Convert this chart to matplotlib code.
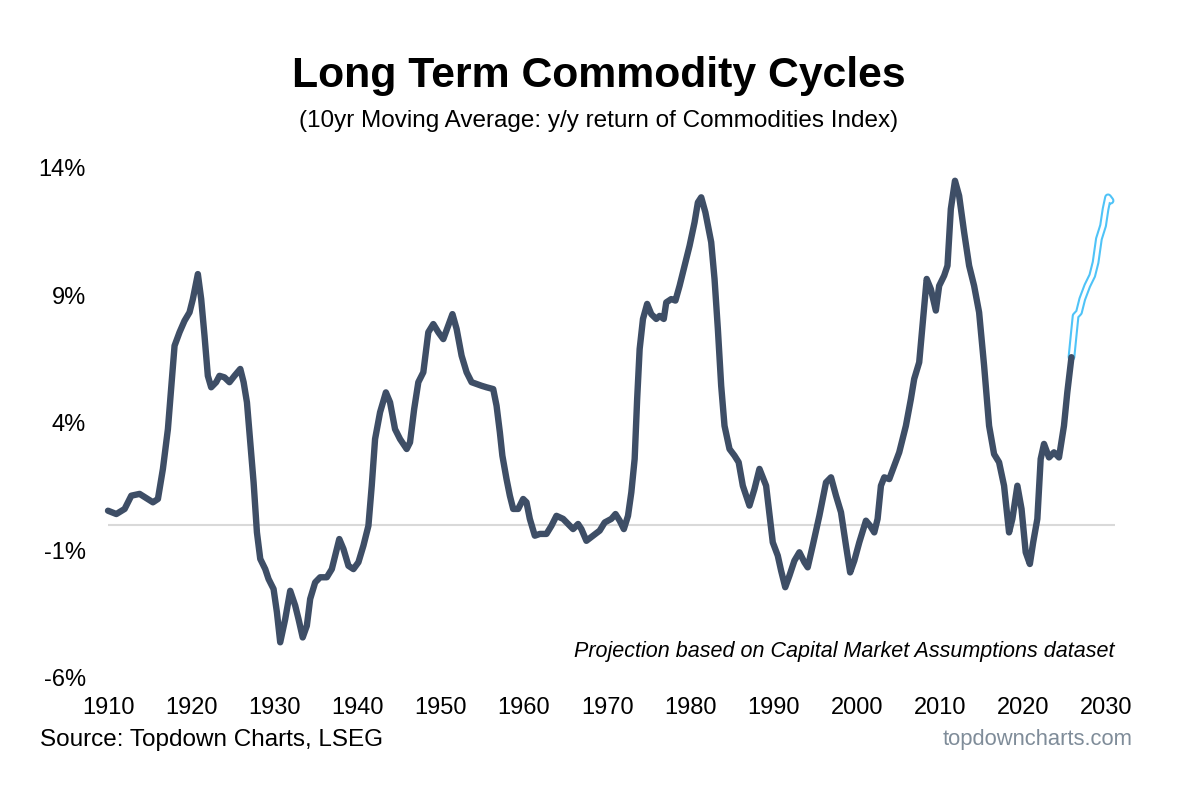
import matplotlib
matplotlib.use("Agg")
import matplotlib.pyplot as plt
import numpy as np

plt.rcParams['font.family'] = ['Liberation Sans', 'DejaVu Sans']

# Historical 10yr moving average of y/y commodity index returns (%)
hist_years = [1910.0, 1911.0, 1912.0, 1912.8, 1913.8, 1915.4, 1916.0, 1916.6, 1917.2, 1917.65,
              1918.0, 1918.6, 1919.2, 1919.8, 1920.2, 1920.8, 1921.2, 1921.6, 1922.0, 1922.4,
              1923.0, 1923.4, 1924.0, 1924.6, 1925.2, 1925.9, 1926.3, 1926.7, 1927.1, 1927.5,
              1927.9, 1928.3, 1928.9, 1929.3, 1929.9, 1930.3, 1930.7, 1931.3, 1931.9, 1932.5,
              1932.9, 1933.4, 1933.9, 1934.3, 1934.9, 1935.5, 1936.3, 1936.9, 1937.3, 1937.8,
              1938.3, 1938.9, 1939.5, 1940.1, 1940.7, 1941.3, 1941.7, 1942.1, 1942.7, 1943.4,
              1943.9, 1944.5, 1945.1, 1945.9, 1946.3, 1946.8, 1947.3, 1947.9, 1948.5, 1949.1,
              1949.7, 1950.3, 1950.9, 1951.4, 1951.9, 1952.5, 1953.1, 1953.7, 1954.3, 1954.9,
              1955.5, 1956.3, 1956.7, 1957.1, 1957.4, 1957.9, 1958.3, 1958.7, 1959.3, 1959.9,
              1960.3, 1960.7, 1961.3, 1961.9, 1962.7, 1963.3, 1963.9, 1964.7, 1965.5, 1965.9,
              1966.5, 1966.9, 1967.5, 1968.3, 1969.1, 1969.7, 1970.5, 1971.0, 1971.5, 1972.0,
              1972.5, 1972.9, 1973.3, 1973.6, 1973.9, 1974.3, 1974.8, 1975.3, 1975.9, 1976.3,
              1976.8, 1977.1, 1977.7, 1978.2, 1978.7, 1979.3, 1979.9, 1980.5, 1980.9, 1981.3,
              1981.8, 1982.5, 1982.9, 1983.3, 1983.7, 1984.1, 1984.7, 1985.3, 1985.8, 1986.3,
              1987.1, 1987.7, 1988.3, 1989.1, 1989.9, 1990.5, 1990.9, 1991.4, 1991.9, 1992.5,
              1993.1, 1993.7, 1994.1, 1994.7, 1995.5, 1996.3, 1996.9, 1997.5, 1998.1, 1998.7,
              1999.2, 1999.7, 2000.3, 2001.1, 2001.6, 2002.1, 2002.5, 2002.9, 2003.3, 2003.9,
              2004.5, 2005.1, 2005.9, 2006.5, 2006.9, 2007.5, 2007.9, 2008.4, 2008.9, 2009.5,
              2009.9, 2010.5, 2010.9, 2011.3, 2011.8, 2012.3, 2012.9, 2013.5, 2014.1, 2014.7,
              2015.3, 2015.9, 2016.5, 2017.1, 2017.7, 2018.3, 2018.7, 2019.3, 2019.8, 2020.3,
              2020.8, 2021.2, 2021.7, 2022.1, 2022.5, 2023.1, 2023.7, 2024.3, 2024.9, 2025.3,
              2025.8]
hist_values = [0.56, 0.43, 0.63, 1.15, 1.22, 0.89, 1.02, 2.2, 3.76, 5.6,
               7.03, 7.56, 8.01, 8.34, 8.86, 9.84, 8.86, 7.42, 5.85, 5.4,
               5.6, 5.85, 5.79, 5.6, 5.85, 6.12, 5.6, 4.81, 3.24, 1.67,
               -0.29, -1.33, -1.73, -2.12, -2.51, -3.42, -4.6, -3.69, -2.58, -3.16,
               -3.69, -4.41, -3.95, -2.9, -2.25, -2.05, -2.05, -1.73, -1.2, -0.55,
               -0.94, -1.6, -1.73, -1.46, -0.81, -0.03, 1.54, 3.37, 4.42, 5.2,
               4.81, 3.76, 3.37, 2.98, 3.24, 4.55, 5.6, 5.99, 7.56, 7.88,
               7.56, 7.29, 7.82, 8.27, 7.69, 6.64, 5.99, 5.6, 5.53, 5.46,
               5.4, 5.33, 4.68, 3.63, 2.72, 1.8, 1.15, 0.63, 0.63, 1.02,
               0.89, 0.24, -0.42, -0.35, -0.35, -0.03, 0.36, 0.24, -0.03, -0.16,
               0.04, -0.16, -0.62, -0.42, -0.22, 0.1, 0.24, 0.43, 0.17, -0.16,
               0.36, 1.28, 2.59, 4.94, 6.9, 8.08, 8.67, 8.27, 8.08, 8.2,
               8.08, 8.73, 8.86, 8.8, 9.38, 10.17, 10.95, 11.87, 12.65, 12.85,
               12.26, 11.09, 9.65, 7.69, 5.46, 3.89, 2.98, 2.72, 2.46, 1.54,
               0.76, 1.41, 2.2, 1.54, -0.68, -1.2, -1.79, -2.44, -1.99, -1.4,
               -1.07, -1.46, -1.66, -0.81, 0.36, 1.67, 1.87, 1.15, 0.5, -0.81,
               -1.86, -1.4, -0.68, 0.17, -0.03, -0.29, 0.24, 1.54, 1.87, 1.8,
               2.33, 2.85, 3.89, 4.94, 5.73, 6.38, 7.82, 9.65, 9.25, 8.41,
               9.38, 9.78, 10.17, 12.39, 13.5, 12.91, 11.48, 10.17, 9.38, 8.34,
               6.25, 3.89, 2.78, 2.46, 1.54, -0.29, 0.24, 1.54, 0.63, -1.07,
               -1.53, -0.68, 0.24, 2.59, 3.18, 2.65, 2.85, 2.65, 3.89, 5.2,
               6.58]

# Projection based on Capital Market Assumptions
proj_years = [2025.8, 2026.1, 2026.3, 2026.7, 2027.1, 2027.7, 2028.3, 2028.7, 2029.1,
              2029.6, 2029.9, 2030.2, 2030.5]
proj_values = [6.58, 7.56, 8.2, 8.34, 8.86, 9.38, 9.78, 10.3, 11.22,
               11.74, 12.39, 12.85, 12.72]

x_ticks = [1910, 1920, 1930, 1940, 1950, 1960, 1970, 1980, 1990, 2000, 2010, 2020, 2030]
y_ticks = [-6, -1, 4, 9, 14]
y_tick_labels = ['-6%', '-1%', '4%', '9%', '14%']

W, H = 1203, 792
fig = plt.figure(figsize=(W / 100, H / 100), dpi=100)
px_per_year = 8.32
left_px, bottom_px, top_px = 108, 114, 624
x_min, x_max = 1910, 2031
ax = fig.add_axes([left_px / W, bottom_px / H,
                   (x_max - x_min) * px_per_year / W, (top_px - bottom_px) / H])

line_color = '#3E4E66'
ax.axhline(0, color='#D9D9D9', lw=1.5, zorder=1)
ax.plot(proj_years, proj_values, color='#4FC3F7', lw=5.6, solid_capstyle='round',
        solid_joinstyle='round', zorder=2, clip_on=False)
ax.plot(proj_years, proj_values, color='white', lw=2.6, solid_capstyle='round',
        solid_joinstyle='round', zorder=3, clip_on=False)
ax.plot(hist_years, hist_values, color=line_color, lw=4.6, solid_capstyle='round',
        solid_joinstyle='round', zorder=4, clip_on=False)

ax.set_xlim(x_min, x_max)
ax.set_ylim(-6, 14)
ax.set_xticks(x_ticks)
ax.set_xticklabels([str(t) for t in x_ticks])
ax.set_yticks(y_ticks)
ax.set_yticklabels(y_tick_labels)
ax.tick_params(axis='both', length=0, labelsize=17, colors='black')
ax.tick_params(axis='x', pad=14)
ax.tick_params(axis='y', pad=16)
for s in ax.spines.values():
    s.set_visible(False)
ax.patch.set_alpha(0)

fig.text(0.4975, 1 - 76 / H, 'Long Term Commodity Cycles', ha='center', va='center',
         fontsize=30.8, fontweight='bold', color='black')
fig.text(0.4975, 1 - 121 / H, '(10yr Moving Average: y/y return of Commodities Index)',
         ha='center', va='center', fontsize=17.5, color='black')
fig.text(1115 / W, 1 - 651 / H, 'Projection based on Capital Market Assumptions dataset',
         ha='right', va='center', fontsize=15.5, style='italic', color='black')
fig.text(40 / W, 1 - 740 / H, 'Source: Topdown Charts, LSEG', ha='left', va='center',
         fontsize=17.5, color='black')
fig.text(1133 / W, 1 - 740 / H, 'topdowncharts.com', ha='right', va='center',
         fontsize=15.8, color='#7F8C99')

fig.savefig('out.png', dpi=100, facecolor='white')
